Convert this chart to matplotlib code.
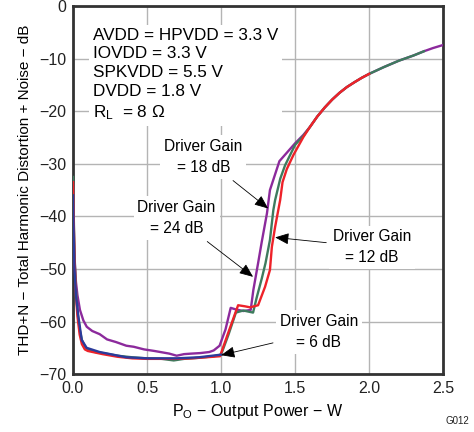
import matplotlib
matplotlib.use("Agg")
import matplotlib.pyplot as plt

plt.rcParams['font.family'] = ['Liberation Sans', 'DejaVu Sans']
plt.rcParams['mathtext.fontset'] = 'custom'
plt.rcParams['mathtext.rm'] = 'Liberation Sans'
plt.rcParams['mathtext.it'] = 'Liberation Sans'

# shared high-power tail (all gains merge)
tail_x = [1.6, 1.65, 1.7, 1.75, 1.8, 1.85, 1.9, 1.95, 2.0, 2.1, 2.2, 2.3, 2.37, 2.43, 2.5]
tail_y = [-23.0, -21.0, -19.3, -17.8, -16.5, -15.4, -14.5, -13.65, -12.9, -11.6, -10.4, -9.4, -8.6, -8.0, -7.4]

# Driver Gain = 24 dB (purple)
g24_x = [0.0, 0.005, 0.01, 0.02, 0.03, 0.047, 0.07, 0.093, 0.13, 0.18, 0.23, 0.29,
         0.36, 0.41, 0.48, 0.55, 0.59, 0.65, 0.70, 0.75, 0.80, 0.86, 0.92, 0.95, 0.99,
         1.03, 1.065, 1.10, 1.15, 1.20, 1.218, 1.25, 1.275, 1.31, 1.33, 1.394, 1.5, 1.556]
g24_y = [-34.0, -42.0, -48.0, -52.5, -55.0, -57.8, -59.8, -61.0, -61.8, -62.4, -63.4, -63.9,
         -64.6, -64.8, -65.3, -65.6, -65.8, -66.1, -66.5, -66.2, -66.1, -66.0, -65.8, -65.5, -64.6,
         -61.5, -57.4, -57.7, -58.0, -57.8, -54.0, -48.9, -44.8, -39.4, -35.0, -29.5, -26.1, -24.5]

# Driver Gain = 18 dB (green)
g18_x = [0.0, 0.005, 0.01, 0.02, 0.03, 0.045, 0.06, 0.08, 0.1, 0.15, 0.2, 0.3, 0.4, 0.5,
         0.6, 0.68, 0.75, 0.85, 0.95, 1.0, 1.05, 1.10, 1.15, 1.216, 1.24, 1.275, 1.30, 1.33,
         1.353, 1.365, 1.40, 1.432, 1.5, 1.556]
g18_y = [-32.5, -40.0, -47.0, -54.0, -58.0, -61.5, -63.5, -64.8, -65.3, -65.8, -66.0, -66.5, -66.8, -67.0,
         -67.1, -67.4, -67.1, -66.9, -66.6, -66.3, -62.5, -58.3, -57.9, -58.3, -55.5, -51.8, -48.9, -44.5,
         -38.8, -36.9, -32.8, -30.3, -26.4, -24.7]

# Driver Gain = 12 dB (red)
g12_x = [0.0, 0.005, 0.01, 0.02, 0.03, 0.045, 0.06, 0.08, 0.1, 0.15, 0.2, 0.3, 0.4, 0.5,
         0.6, 0.7, 0.8, 0.9, 0.993, 1.05, 1.115, 1.16, 1.196, 1.25, 1.297, 1.33, 1.343, 1.365,
         1.399, 1.415, 1.444, 1.489, 1.556]
g12_y = [-33.5, -41.0, -48.0, -55.0, -59.0, -62.5, -64.3, -65.3, -65.6, -65.9, -66.2, -66.7, -67.0, -67.1,
         -67.1, -67.1, -67.0, -66.8, -66.6, -62.0, -56.9, -57.1, -57.3, -56.9, -53.4, -50.2, -45.8, -42.0,
         -36.9, -33.5, -31.0, -28.3, -24.9]

# Driver Gain = 6 dB (blue)
g6_x = [0.0, 0.005, 0.01, 0.02, 0.036, 0.059, 0.092, 0.18, 0.36, 0.5, 0.7, 0.85, 1.0]
g6_y = [-36.0, -44.0, -50.0, -55.0, -59.0, -63.5, -65.0, -65.8, -66.8, -67.0, -67.0, -66.8, -66.3]

fig = plt.figure(figsize=(4.74, 4.32), dpi=100)
ax = fig.add_axes([0.154, 0.134, 0.781, 0.852])

ax.plot(g24_x + tail_x, g24_y + tail_y, color="#8c2a9c", lw=1.7, zorder=3)
ax.plot(g18_x + tail_x[:-2], g18_y + tail_y[:-2], color="#3e7b5e", lw=1.7, zorder=4)
ax.plot(g12_x + tail_x[:9], g12_y + tail_y[:9], color="#ee2229", lw=1.7, zorder=5)
ax.plot(g6_x, g6_y, color="#2b3b9b", lw=1.7, zorder=6)

ax.set_xlim(0, 2.5)
ax.set_ylim(-70, 0)
ax.set_xticks([0.0, 0.5, 1.0, 1.5, 2.0, 2.5])
ax.set_xticklabels(["0.0", "0.5", "1.0", "1.5", "2.0", "2.5"])
ax.set_yticks(range(-70, 1, 10))
ax.set_yticklabels(["\u221270", "\u221260", "\u221250", "\u221240", "\u221230", "\u221220", "\u221210", "0"])
ax.tick_params(length=0, labelsize=11.5, pad=5, colors="#222222")
ax.grid(True, color="#b4b4b4", lw=1.0)
ax.set_axisbelow(True)
for s in ax.spines.values():
    s.set_color("#333333")
    s.set_linewidth(2.0)

ax.set_xlabel("P$_\\mathregular{O}$ \u2212 Output Power \u2212 W", fontsize=11.5, labelpad=4)
ax.set_ylabel("THD+N \u2212 Total Harmonic Distortion + Noise \u2212 dB", fontsize=11, labelpad=5)

box = dict(boxstyle="square,pad=0.25", fc="white", ec="none")
ax.text(0.134, -4.15, "AVDD = HPVDD = 3.3 V\nIOVDD = 3.3 V\nSPKVDD = 5.5 V\nDVDD = 1.8 V\nR$_\\mathregular{L}$  = 8 \u03a9",
        fontsize=12.3, va="top", ha="left", linespacing=1.3, bbox=box, zorder=7)

arrow = dict(arrowstyle="-|>,head_length=0.6,head_width=0.25", color="black", lw=0.6,
             mutation_scale=14, shrinkA=2, shrinkB=0)
ax.annotate("Driver Gain\n= 18 dB", xy=(1.318, -38.5), xytext=(0.88, -28.7), fontsize=11.2,
            ha="center", va="center", linespacing=1.5, bbox=box, arrowprops=arrow, zorder=8)
ax.annotate("Driver Gain\n= 24 dB", xy=(1.216, -51.5), xytext=(0.70, -40.3), fontsize=11.2,
            ha="center", va="center", linespacing=1.5, bbox=box, arrowprops=arrow, zorder=8)
ax.annotate("Driver Gain\n= 12 dB", xy=(1.365, -44.0), xytext=(2.02, -45.9), fontsize=11.2,
            ha="center", va="center", linespacing=1.5, bbox=box, arrowprops=arrow, zorder=8)
ax.annotate("Driver Gain\n= 6 dB", xy=(1.0, -66.4), xytext=(1.66, -62.0), fontsize=11.2,
            ha="center", va="center", linespacing=1.5, bbox=box, arrowprops=arrow, zorder=8)

fig.text(0.99, 0.015, "G012", fontsize=7, ha="right", va="bottom", color="#222222")

fig.savefig("out.png", dpi=100)
